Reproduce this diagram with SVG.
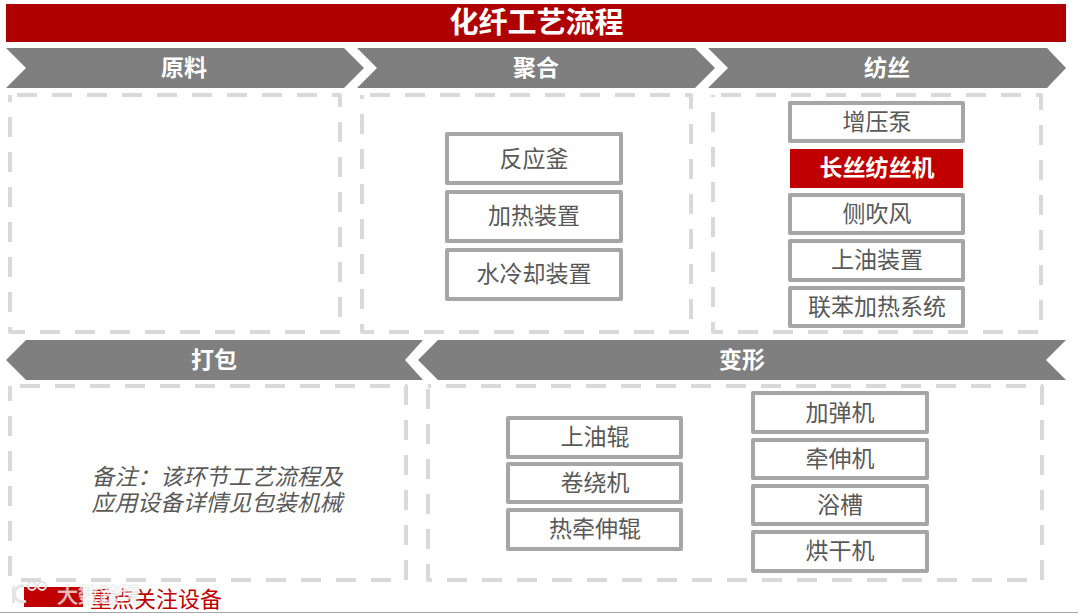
<svg xmlns="http://www.w3.org/2000/svg" width="1078" height="613" viewBox="0 0 1078 613">
<style>
text{font-family:"Noto Sans CJK SC","Liberation Sans",sans-serif;text-anchor:middle}
.chev{fill:#7f7f7f}
.ct{fill:#fff;font-size:23px;font-weight:700}
.dash{fill:none;stroke:#d9d9d9;stroke-width:4;stroke-dasharray:20 15;stroke-linejoin:round}
.box{fill:#fff;stroke:#a6a6a6;stroke-width:4;stroke-linejoin:round}
.bt{fill:#595959;font-size:23px}
.note{fill:#595959;font-size:22.800px;font-style:italic}
.wm{fill:#fff;stroke:#cfcfcf;stroke-width:.8;paint-order:stroke;opacity:.75}
</style>
<rect width="1078" height="613" fill="#fff"/>
<rect x="0" y="612" width="1078" height="1" fill="#a6a6a6"/>
<g id="title"><rect x="6" y="4" width="1060" height="38" fill="#ae0000"/><text x="536.500" y="33" fill="#fff" font-size="29" font-weight="700">化纤工艺流程</text></g>
<g id="stage-yuanliao"><polygon class="chev" points="6,48 344,48 364,68 344,88 6,88 26,68"/><text class="ct" x="184" y="76">原料</text><rect class="dash" x="10" y="95" width="330" height="237" stroke-dashoffset="-7"/></g>
<g id="stage-juhe"><polygon class="chev" points="357,48 695,48 715,68 695,88 357,88 377,68"/><text class="ct" x="536" y="76">聚合</text><rect class="dash" x="362" y="95" width="329" height="237" stroke-dashoffset="-8"/></g>
<g id="stage-fangsi"><polygon class="chev" points="708,48 1047,48 1066,68 1047,88 708,88 728,68"/><text class="ct" x="887" y="76">纺丝</text><rect class="dash" x="713" y="95" width="328" height="237" stroke-dashoffset="-8"/></g>
<g id="stage-dabao"><polygon class="chev" points="26,340 423,340 405,360 423,380 26,380 6,360"/><text class="ct" x="214" y="368">打包</text><rect class="dash" x="10" y="386" width="396" height="194" stroke-dashoffset="-10"/>
<text class="note" x="217" y="485">备注：该环节工艺流程及</text><text class="note" x="217" y="511">应用设备详情见包装机械</text></g>
<g id="stage-bianxing"><polygon class="chev" points="438,340 1066,340 1046,360 1066,380 438,380 418,360"/><text class="ct" x="742" y="368">变形</text><rect class="dash" x="428" y="386" width="614" height="194" stroke-dashoffset="-18"/></g>
<g id="n1"><rect class="box" x="447" y="134" width="174" height="49"/><text class="bt" x="534" y="167">反应釜</text></g>
<g id="n2"><rect class="box" x="447" y="192" width="174" height="49"/><text class="bt" x="534" y="224">加热装置</text></g>
<g id="n3"><rect class="box" x="447" y="250" width="174" height="49"/><text class="bt" x="534" y="282">水冷却装置</text></g>
<g id="n4"><rect class="box" x="790" y="103" width="173" height="38"/><text class="bt" x="877" y="130">增压泵</text></g>
<g id="n5"><rect x="790" y="149" width="173" height="39" fill="#c00000"/><text x="877" y="176" fill="#fff" font-size="23" font-weight="700">长丝纺丝机</text></g>
<g id="n6"><rect class="box" x="790" y="195" width="173" height="38"/><text class="bt" x="877" y="222">侧吹风</text></g>
<g id="n7"><rect class="box" x="790" y="241" width="173" height="39"/><text class="bt" x="877" y="268">上油装置</text></g>
<g id="n8"><rect class="box" x="790" y="288" width="173" height="38"/><text class="bt" x="877" y="315">联苯加热系统</text></g>
<g id="n9"><rect class="box" x="508" y="418" width="173" height="39"/><text class="bt" x="595" y="445">上油辊</text></g>
<g id="n10"><rect class="box" x="508" y="464" width="173" height="38"/><text class="bt" x="595" y="491">卷绕机</text></g>
<g id="n11"><rect class="box" x="508" y="510" width="173" height="39"/><text class="bt" x="595" y="537">热牵伸辊</text></g>
<g id="n12"><rect class="box" x="753" y="393" width="174" height="39"/><text class="bt" x="840" y="421">加弹机</text></g>
<g id="n13"><rect class="box" x="753" y="440" width="174" height="38"/><text class="bt" x="840" y="467">牵伸机</text></g>
<g id="n14"><rect class="box" x="753" y="486" width="174" height="38"/><text class="bt" x="840" y="513">浴槽</text></g>
<g id="n15"><rect class="box" x="753" y="532" width="174" height="39"/><text class="bt" x="840" y="559">烘干机</text></g>
<g id="legend"><rect x="24" y="587" width="59" height="20" fill="#c00000"/><text x="156" y="607" fill="#c00000" font-size="22">重点关注设备</text></g>
<g id="watermark"><path d="M12 587 L15 585 L15 603 L12 603 Z" fill="#e4e4e4"/><path d="M24 586 A8 8 0 1 0 26 601" fill="none" stroke="#e4e4e4" stroke-width="3"/><circle cx="32" cy="586" r="4" fill="none" stroke="#e4e4e4" stroke-width="2"/><circle cx="42" cy="586" r="4" fill="none" stroke="#e4e4e4" stroke-width="2"/><text class="wm" x="99" y="602" font-size="21">大数跨境</text></g>
<g id="connectors"></g>
</svg>
